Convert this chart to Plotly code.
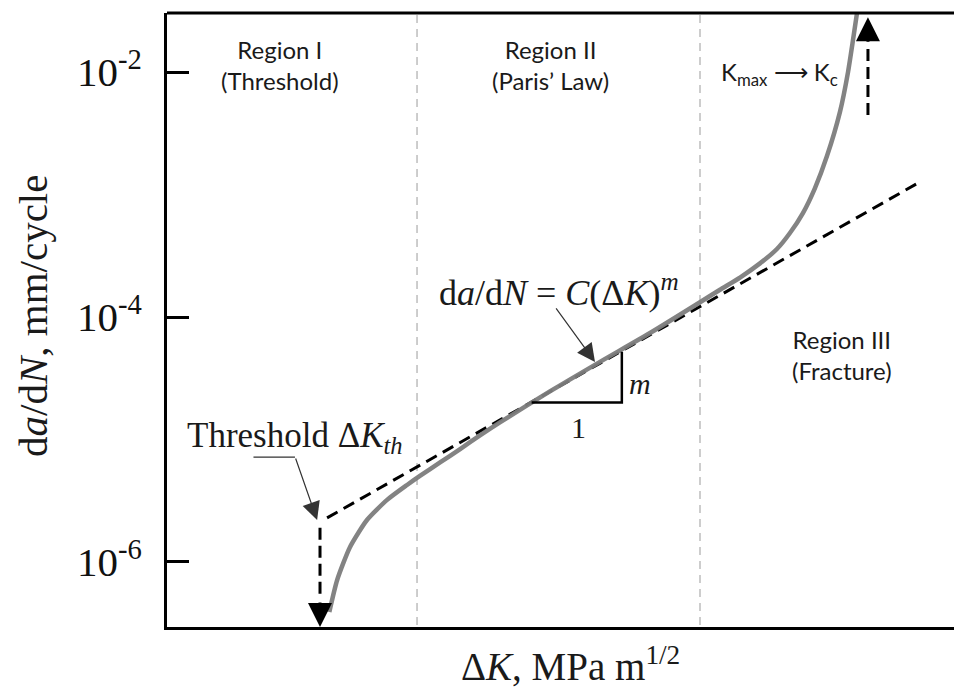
import math
import plotly.graph_objects as go

# ---------------- data ----------------
# Crack-growth curve: stress-intensity range (MPa m^1/2) vs da/dN (mm/cycle)
curve_dk = [5.64, 5.80, 6.07, 6.45, 6.93, 7.44, 7.79, 8.37, 8.99, 9.65, 10.36, 12.38,
            14.80, 17.69, 21.14, 22.70, 24.38, 26.18, 27.81, 29.13, 30.51, 31.85,
            33.24, 34.81, 35.83, 36.47, 37.25]
curve_dadn = [3.91e-7, 7.13e-7, 1.32e-6, 2.20e-6, 3.21e-6, 4.25e-6, 5.04e-6, 6.49e-6,
              8.36e-6, 1.08e-5, 1.38e-5, 2.47e-5, 4.30e-5, 7.40e-5, 1.32e-4, 1.67e-4,
              2.10e-4, 2.74e-4, 3.59e-4, 4.85e-4, 7.06e-4, 1.13e-3, 2.06e-3, 4.71e-3,
              1.00e-2, 1.82e-2, 3.87e-2]

# Paris-law straight line (dashed)
paris_dk = [5.595, 45.97]
paris_dadn = [2.29e-6, 1.24e-3]

# Region boundaries (vertical dashed gray lines)
boundary_dk = [7.71, 21.14]

# Slope triangle
tri_dk = [11.6, 16.0, 16.0]
tri_dadn = [2.0e-5, 2.0e-5, 5.2e-5]

# Threshold arrow (downward) and fracture arrow (upward)
thr_dk = 5.456
thr_dadn = [1.90e-6, 5.2e-7]
thr_tip = 2.95e-7
frac_dk = 38.47
frac_dadn = [4.46e-3, 1.6e-2]
frac_tip = 2.80e-2

# Annotation arrow tips
eq_tip = (14.54, 4.30e-5)
th_tip = (5.40, 2.20e-6)
th_bend = (4.99, 7.19e-6)

ytick_vals = [1e-6, 1e-4, 1e-2]
ytick_text = ["10<sup>-6</sup>", "10<sup>-4</sup>", "10<sup>-2</sup>"]

# ---------------- figure ----------------
SERIF = "Liberation Serif"
SANS = "Lato"
lg = math.log10

fig = go.Figure()

for b in boundary_dk:
    fig.add_trace(go.Scatter(x=[b, b], y=[1e-8, 1], mode="lines",
                             line=dict(color="#bdbdbd", width=1.5, dash="8px,6px"),
                             hoverinfo="skip", showlegend=False))

fig.add_trace(go.Scatter(x=paris_dk, y=paris_dadn, mode="lines",
                         line=dict(color="black", width=3, dash="12px,7px"),
                         showlegend=False))

fig.add_trace(go.Scatter(x=curve_dk, y=curve_dadn, mode="lines",
                         line=dict(color="#7d7d7d", width=4.5, shape="spline", smoothing=0.6),
                         opacity=0.95, showlegend=False))

fig.add_trace(go.Scatter(x=[thr_dk, thr_dk], y=thr_dadn, mode="lines",
                         line=dict(color="black", width=3, dash="12px,6px"),
                         showlegend=False))
fig.add_trace(go.Scatter(x=[frac_dk, frac_dk], y=frac_dadn, mode="lines",
                         line=dict(color="black", width=3, dash="12px,6px"),
                         showlegend=False))

fig.add_trace(go.Scatter(x=tri_dk, y=tri_dadn, mode="lines",
                         line=dict(color="black", width=2.5),
                         showlegend=False))

# page body has an 8px margin; figure is sized so the plot lands where the reference has it
OFF = 8
W, H = 962 - OFF, 694 - OFF
X0, X1, Y0, Y1 = 167, 962, 13, 627          # plot area on screen
L, T, B = X0 - OFF, Y0 - OFF, 694 - Y1
PW, PH = X1 - X0, Y1 - Y0


def px(xs):
    return (xs - X0) / PW


def py(ys):
    return (Y1 - ys) / PH


ann = []
# arrow heads
ann.append(dict(x=lg(thr_dk), y=lg(thr_tip), xref="x", yref="y", text="", showarrow=True,
                ax=0, ay=-26, arrowhead=2, arrowsize=1.6, arrowwidth=3, arrowcolor="black",
                standoff=0))
ann.append(dict(x=lg(frac_dk), y=lg(frac_tip), xref="x", yref="y", text="", showarrow=True,
                ax=0, ay=26, arrowhead=2, arrowsize=1.6, arrowwidth=3, arrowcolor="black",
                standoff=0))
# equation pointer
ann.append(dict(x=lg(eq_tip[0]), y=lg(eq_tip[1]), xref="x", yref="y", text="", showarrow=True,
                ax=-40, ay=-55, arrowhead=2, arrowsize=3, arrowwidth=1.2, arrowcolor="#333",
                standoff=0))
# threshold pointer (bent leader)
ann.append(dict(x=lg(th_tip[0]), y=lg(th_tip[1]), xref="x", yref="y", text="", showarrow=True,
                ax=-22, ay=-63, arrowhead=2, arrowsize=3, arrowwidth=1.2, arrowcolor="#333",
                standoff=0))
ann.append(dict(x=lg(th_bend[0]), y=lg(th_bend[1]), xref="x", yref="y", text="", showarrow=True,
                ax=-43, ay=0, arrowhead=0, arrowwidth=1.2, arrowcolor="#333", standoff=0))


def label(xs, ys, text, family, size, **kw):
    d = dict(x=px(xs), y=py(ys), xref="paper", yref="paper", text=text, showarrow=False,
             xanchor="center", yanchor="middle",
             font=dict(family=family, size=size, color="#1a1a1a"))
    d.update(kw)
    ann.append(d)


# region labels
label(280, 65, "Region I<br>(Threshold)", SANS, 24)
label(550, 65, "Region II<br>(Paris\u2019 Law)", SANS, 24)
label(842, 355, "Region III<br>(Fracture)", SANS, 24)
label(719, 73, "K<sub>max</sub> \u27f6 K<sub>c</sub>", SANS, 24, xanchor="left")

# math labels
label(559, 290, "d<i>a</i>/d<i>N</i> = <i>C</i>(\u0394<i>K</i>)<sup><i>m</i></sup>", SERIF, 36)
label(185, 437, "Threshold \u0394<i>K<sub>th</sub></i>", SERIF, 35, xanchor="left")
label(640, 383, "<i>m</i>", SERIF, 30)
label(578, 427, "1", SERIF, 30)

# axis titles
label(33, 316, "d<i>a</i>/d<i>N</i>, mm/cycle", SERIF, 41, textangle=-90)
label(570, 664, "\u0394<i>K</i>, MPa m<sup>1/2</sup>", SERIF, 39)

fig.update_layout(
    width=W, height=H,
    margin=dict(l=L, r=0, t=T, b=B, autoexpand=False),
    paper_bgcolor="white", plot_bgcolor="white",
    showlegend=False,
    annotations=ann,
    shapes=[dict(type="line", xref="paper", yref="paper", x0=0, x1=1, y0=1, y1=1,
                 line=dict(color="black", width=3))],
    xaxis=dict(type="log", range=[0.5, 1.7307], showticklabels=False, ticks="",
               showgrid=False, zeroline=False, showline=True, linecolor="black",
               linewidth=3),
    yaxis=dict(type="log", range=[-6.531, -1.518], tickvals=ytick_vals, ticktext=ytick_text,
               ticks="inside", ticklen=22, tickwidth=3, tickcolor="black",
               ticklabelstandoff=14,
               tickfont=dict(family=SERIF, size=41, color="#111"),
               showgrid=False, zeroline=False, showline=True, linecolor="black",
               linewidth=3),
)

fig.write_html("out.html")
